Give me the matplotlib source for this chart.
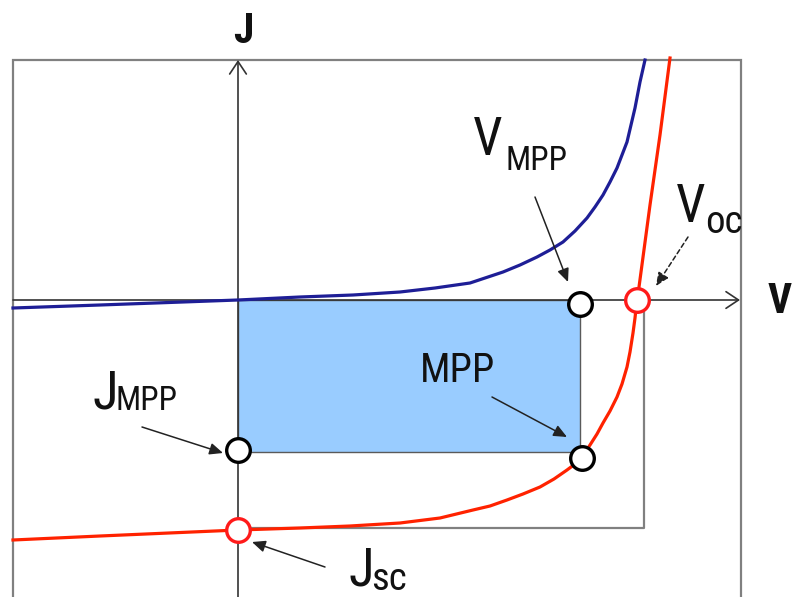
import os
import matplotlib
matplotlib.use("Agg")
import matplotlib.pyplot as plt
from matplotlib import font_manager
from matplotlib.font_manager import FontProperties
from matplotlib.patches import Rectangle

# ---------------- data (V in volts, J in mA/cm^2, illustrative units) ----------------
dark_v = [-0.450, -0.276, 0.000, 0.124, 0.230, 0.324, 0.394, 0.464, 0.530, 0.564,
          0.598, 0.624, 0.650, 0.674, 0.698, 0.714, 0.730, 0.744, 0.758, 0.768,
          0.778, 0.786, 0.794, 0.804, 0.814]
dark_j = [-0.8, -0.5, 0.0, 0.3, 0.5, 0.8, 1.2, 1.7, 2.8, 3.5,
          4.3, 5.0, 5.8, 6.9, 8.2, 9.3, 10.5, 11.8, 13.2, 14.5,
          15.8, 17.5, 19.2, 21.8, 24.0]

light_v = [-0.450, -0.276, 0.000, 0.124, 0.224, 0.324, 0.404, 0.470, 0.504, 0.538,
           0.570, 0.604, 0.632, 0.658, 0.674, 0.688, 0.704, 0.718, 0.730, 0.744,
           0.758, 0.768, 0.778, 0.784, 0.790, 0.794, 0.798, 0.802, 0.824, 0.844,
           0.864]
light_j = [-24.0, -23.6, -23.0, -22.8, -22.6, -22.3, -21.8, -21.0, -20.6, -20.0,
           -19.4, -18.7, -17.9, -17.0, -16.4, -15.7, -14.5, -13.4, -12.3, -11.1,
           -9.7, -8.4, -6.7, -5.2, -3.3, -1.8, 0.0, 1.3, 9.5, 16.5,
           24.2]

v_mpp, j_mpp = 0.684, -15.2        # power rectangle corner
mpp_point = (0.688, -15.8)         # MPP on the illuminated curve
v_oc, j_sc = 0.798, -23.0
box_v, box_j = 0.812, -22.8        # Jsc x Voc rectangle

# ---------------- fonts: prefer a condensed Arial-like sans ----------------
def find_condensed(bold):
    prefs = ['liberation sans narrow', 'arimo', 'noto sans', 'roboto', 'open sans',
             'lato', 'dejavu sans']
    best = None
    for f in font_manager.fontManager.ttflist:
        n = f.name.lower()
        fn = os.path.basename(f.fname).lower()
        st = str(f.stretch).lower()
        if any(b in n for b in ('mono', 'cjk', 'display', 'serif')) or 'mono' in fn:
            continue
        if any(b in fn for b in ('semi', 'extra', 'ultra', 'italic', 'oblique')):
            continue
        if any(b in st for b in ('semi', 'extra', 'ultra')):
            continue
        cond = ('narrow' in n or 'condensed' in n or 'condensed' in st
                or 'narrow' in fn or 'condensed' in fn)
        if not cond or f.style != 'normal':
            continue
        w = f.weight
        try:
            w = int(w)
        except Exception:
            w = {'normal': 400, 'regular': 400, 'bold': 700}.get(str(w), 500)
        if (bold and w != 700) or (not bold and w != 400):
            continue
        if ('bold' in fn or 'medium' in fn or 'light' in fn or 'thin' in fn or 'black' in fn) and not bold:
            continue
        for rank, p in enumerate(prefs):
            if n.startswith(p):
                if best is None or rank < best[0]:
                    best = (rank, f.fname)
                break
    return best[1] if best else None

reg_file = find_condensed(False)
bold_file = find_condensed(True)
if reg_file:
    fp_reg = FontProperties(fname=reg_file)
    scale = 1.0
else:
    fp_reg = FontProperties(family='Liberation Sans')
    scale = 0.86
fp_bold = FontProperties(fname=bold_file) if bold_file else \
    FontProperties(family='Liberation Sans', weight='bold')

fig = plt.figure(figsize=(7.93, 5.97), dpi=100)
ax = fig.add_axes([0, 0, 1, 1])
ax.set_xlim(-0.476, 1.110)
ax.set_ylim(-29.7, 30.0)
ax.axis('off')

# power rectangle
ax.add_patch(Rectangle((0, j_mpp), v_mpp, -j_mpp, facecolor='#99CCFF',
                       edgecolor='#5a5a5a', lw=1.0, zorder=1))

# outer frame
frame_c = '#808080'
ax.plot([-0.45, -0.45, 1.006, 1.006], [-31, 24.0, 24.0, -31], color=frame_c,
        lw=1.6, zorder=2, solid_joinstyle='miter')

# Jsc x Voc box
ax.plot([0, box_v, box_v], [box_j, box_j, 0], color=frame_c, lw=1.6, zorder=2)

# axes arrows
axc = '#333333'
ax.annotate('', xy=(1.004, 0), xytext=(-0.45, 0),
            arrowprops=dict(arrowstyle='->,head_length=0.6,head_width=0.4', color=axc,
                            lw=1.2, mutation_scale=15, shrinkA=0, shrinkB=0), zorder=3)
ax.annotate('', xy=(0, 24.0), xytext=(0, -31),
            arrowprops=dict(arrowstyle='->,head_length=0.6,head_width=0.4', color=axc,
                            lw=1.2, mutation_scale=15, shrinkA=0, shrinkB=0), zorder=3)

# curves
ax.plot(dark_v, dark_j, color='#1e1e96', lw=2.3, zorder=4, solid_joinstyle='round')
ax.plot(light_v, light_j, color='#ff2200', lw=2.3, zorder=4, solid_joinstyle='round')

# markers
mk = dict(marker='o', ms=17, mew=2.4, mfc='white', ls='none', zorder=6)
ax.plot([v_mpp, 0, mpp_point[0]], [-0.4, j_mpp + 0.2, mpp_point[1]], mec='black', **mk)
ax.plot([v_oc, 0], [0.0, j_sc], mec='#ff1a1a', **mk)

# annotation arrows
ac = '#222222'
def arrow(tail, head, ls='-'):
    ax.annotate('', xy=head, xytext=tail,
                arrowprops=dict(arrowstyle='-|>,head_length=0.5,head_width=0.22',
                                color=ac, lw=1.1, mutation_scale=16, linestyle=ls,
                                shrinkA=0, shrinkB=0), zorder=7)

arrow((0.594, 10.3), (0.660, 1.8))
arrow((0.900, 6.3), (0.836, 1.4), ls=(0, (3, 2)))
arrow((0.508, -9.7), (0.658, -13.7))
arrow((-0.192, -12.7), (-0.030, -15.3))
arrow((0.174, -26.7), (0.028, -24.2))

# texts
tk = dict(color='#111111', ha='left', va='baseline', zorder=8)

ax.text(-0.010, 25.7, 'J', fontproperties=fp_bold, fontsize=30 * scale, **tk)
ax.text(1.060, -1.3, 'V', fontproperties=fp_bold, fontsize=30 * scale, **tk)

ax.text(0.364, -8.2, 'MPP', fontproperties=fp_reg, fontsize=29 * scale, **tk)

def pair(xm, ym, main, xs, ys, sub, ms, ss):
    ax.text(xm, ym, main, fontproperties=fp_reg, fontsize=ms * scale, **tk)
    ax.text(xs, ys, sub, fontproperties=fp_reg, fontsize=ss * scale, **tk)

pair(0.470, 14.5, 'V', 0.534, 13.0, 'MPP', 38, 24)
pair(0.876, 7.8, 'V', 0.934, 6.7, 'oc', 38, 28)
pair(-0.290, -10.8, 'J', -0.244, -11.0, 'MPP', 38, 24)
pair(0.220, -28.5, 'J', 0.266, -29.0, 'sc', 38, 28)

fig.savefig('out.png', dpi=100)
